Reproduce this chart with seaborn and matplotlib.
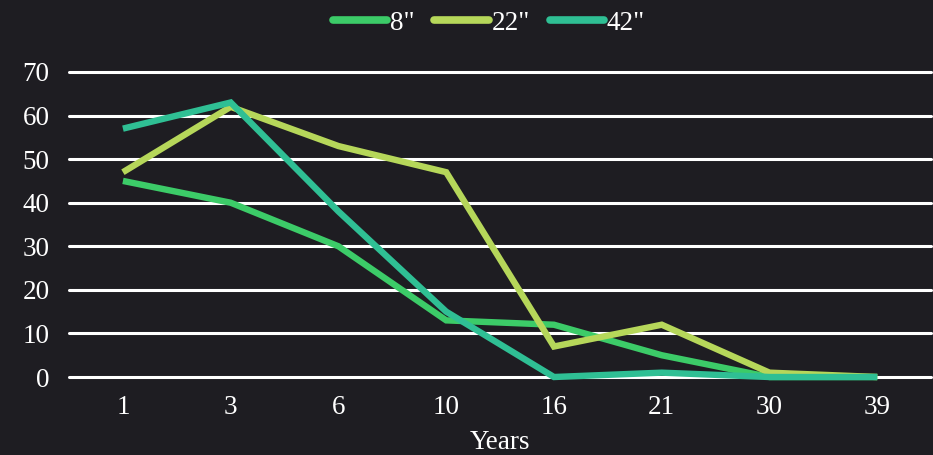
import matplotlib
matplotlib.use("Agg")
import matplotlib.pyplot as plt
import seaborn as sns
import pandas as pd

years = ["1", "3", "6", "10", "16", "21", "30", "39"]
series_names = ['8"', '22"', '42"']
vals_8 = [45, 40, 30, 13, 12, 5, 0, 0]
vals_22 = [47, 62, 53, 47, 7, 12, 1, 0]
vals_42 = [57, 63, 38, 15, 0, 1, 0, 0]
yticks = [0, 10, 20, 30, 40, 50, 60, 70]

colors = ["#3ccb68", "#b6d75a", "#2fbf94"]
bg = "#1e1d22"
fs = 19.5

df = pd.DataFrame({
    "Years": years * 3,
    "value": vals_8 + vals_22 + vals_42,
    "size": [series_names[0]] * 8 + [series_names[1]] * 8 + [series_names[2]] * 8,
})

sns.set_theme(style="dark")
plt.rcParams["font.family"] = ["Liberation Serif", "DejaVu Serif"]

fig = plt.figure(figsize=(9.33, 4.55), dpi=100, facecolor=bg)
ax = fig.add_axes([0.074, 0.1714, 0.924, 0.6704], facecolor=bg)

sns.lineplot(data=df, x="Years", y="value", hue="size", palette=colors,
             hue_order=series_names, sort=False, linewidth=4.6, ax=ax,
             legend=False, solid_capstyle="butt", solid_joinstyle="miter")
for ln in ax.lines:
    ln.set_clip_on(False)

ax.set_xlim(-0.5, len(years) - 0.5)
ax.set_ylim(0, 70)
ax.set_yticks(yticks)
ax.set_yticklabels([str(t) for t in yticks])
ax.yaxis.grid(True, color="white", linewidth=2.2)
for gl in ax.get_ygridlines():
    gl.set_clip_on(False)
ax.xaxis.grid(False)
ax.set_axisbelow(True)
for s in ax.spines.values():
    s.set_visible(False)
ax.tick_params(axis="both", length=0, colors="white", labelsize=fs)
ax.tick_params(axis="y", pad=14)
ax.tick_params(axis="x", pad=13)
ax.set_ylabel("")
ax.set_xlabel("Years", color="white", fontsize=fs, labelpad=7.5)

handles = [plt.Line2D([], [], color=c, linewidth=5.5, solid_capstyle="round")
           for c in colors]
leg = fig.legend(handles, series_names, loc="upper center",
                 bbox_to_anchor=(0.524, 1.03), ncol=3, frameon=False,
                 fontsize=fs, handlelength=2.0, handletextpad=0.1,
                 columnspacing=0.75, labelcolor="white")

fig.savefig("out.png", dpi=100, facecolor=bg)
